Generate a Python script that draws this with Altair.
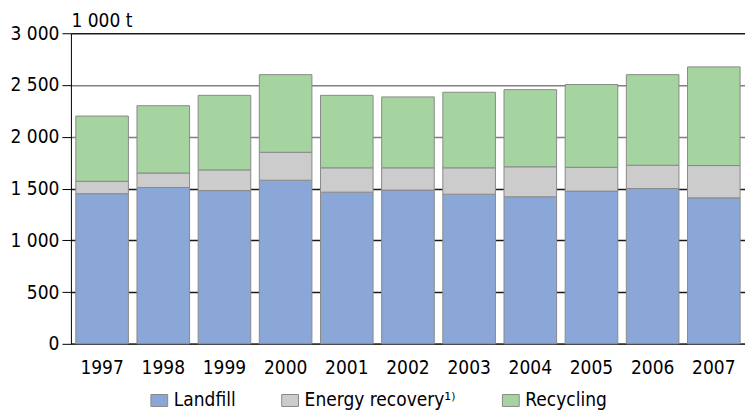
import altair as alt
import pandas as pd

years = ["1997", "1998", "1999", "2000", "2001", "2002", "2003", "2004", "2005", "2006", "2007"]
landfill = [1450, 1510, 1480, 1580, 1465, 1485, 1445, 1420, 1475, 1500, 1410]
energy = [120, 140, 200, 270, 235, 215, 255, 290, 230, 225, 312]
recycling = [630, 650, 720, 750, 700, 685, 730, 745, 800, 875, 953]
series = ["Landfill", "Energy recovery¹⁾", "Recycling"]
colors = ["#8BA7D7", "#CCCCCC", "#A6D4A0"]

rows = []
for i, y in enumerate(years):
    for k, (name, vals) in enumerate(zip(series, [landfill, energy, recycling])):
        rows.append({"year": y, "type": name, "value": vals[i], "ord": k})
df = pd.DataFrame(rows)

FONT = "DejaVu Sans Condensed, Open Sans, sans-serif"
FS = 19

chart = alt.Chart(df).mark_bar(stroke="#8a8a8a", strokeWidth=1).encode(
    x=alt.X("year:N", sort=years,
            scale=alt.Scale(paddingInner=0.14, paddingOuter=0.08),
            axis=alt.Axis(title=None, labelAngle=0, ticks=False, labelPadding=15,
                          domainColor="#333333", domainWidth=1.5)),
    y=alt.Y("value:Q", stack="zero",
            scale=alt.Scale(domain=[0, 3000], nice=False),
            axis=alt.Axis(values=[0, 500, 1000, 1500, 2000, 2500, 3000],
                          labelExpr="replace(format(datum.value, ','), ',', ' ')",
                          title="1 000 t", titleAngle=0, titleX=0, titleY=-3,
                          titleAlign="left", titleBaseline="bottom",
                          titleFontWeight="normal", titleFontSize=FS, titleFont=FONT,
                          titleColor="#000000",
                          grid=True,
                          gridColor=alt.condition("datum.value >= 2000 && datum.value < 3000",
                                                  alt.value("#808080"), alt.value("#1a1a1a")),
                          gridWidth=1.5,
                          tickSize=9, tickColor="#000000", domainColor="#000000",
                          labelPadding=3)),
    color=alt.Color("type:N", sort=series,
                    scale=alt.Scale(domain=series, range=colors),
                    legend=alt.Legend(title=None, orient="none", legendX=79, legendY=358,
                                      direction="horizontal", columns=3, columnPadding=44,
                                      symbolType="M-1.4,-1H1.4V1H-1.4Z", symbolSize=144,
                                      symbolStrokeColor="#8a8a8a", symbolStrokeWidth=1,
                                      symbolOpacity=1, labelFontSize=FS, labelFont=FONT,
                                      labelColor="#000000", labelOffset=5)),
    order=alt.Order("ord:Q"),
).properties(
    width=675, height=311,
    padding={"left": 2, "top": 3, "right": 0, "bottom": 2},
).configure_view(stroke=None).configure_axis(
    labelFont=FONT, labelFontSize=FS, labelColor="#000000"
)

chart.save("out.html", embed_options={"renderer": "svg", "actions": False})
